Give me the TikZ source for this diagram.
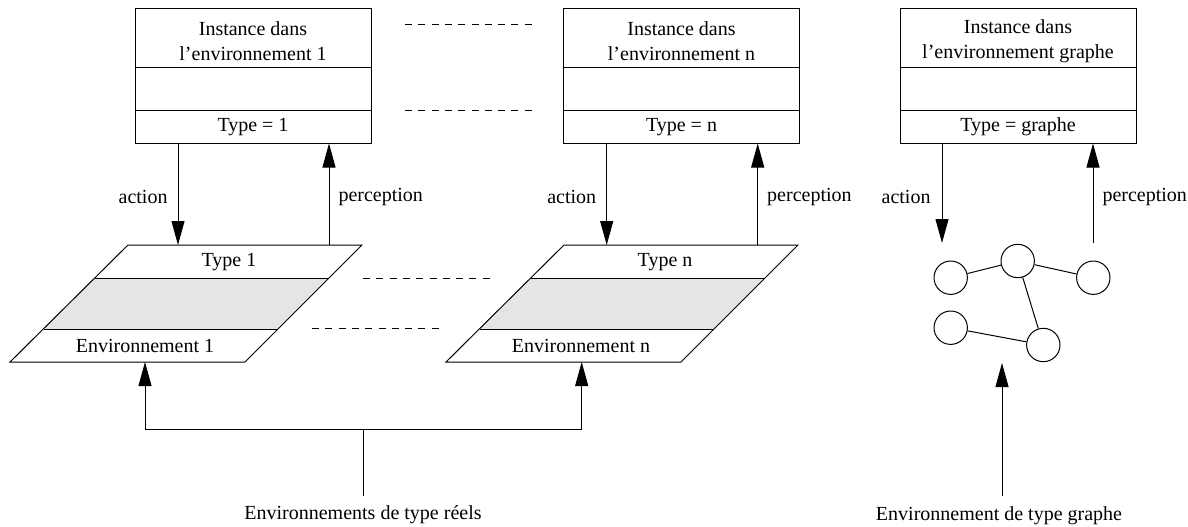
\documentclass[tikz,border=0pt]{standalone}
\usepackage{fontspec}
\setmainfont{Liberation Serif}
\usetikzlibrary{arrows.meta}
\begin{document}
\begin{tikzpicture}[x=1pt,y=-1pt,line width=1pt,
  font=\fontsize{20}{25}\selectfont,
  inst/.style={draw,minimum width=236pt,minimum height=134pt,inner sep=0pt},
  lbl/.style={align=center,inner sep=0pt},
  arr/.style={-{Triangle[length=24pt,width=13pt]}},
  dsh/.style={dash pattern=on 7pt off 6.3pt},
  gnode/.style={draw,circle,minimum size=33.4pt,inner sep=0pt},
  band/.style={fill=gray!20}]
\useasboundingbox (0,0) rectangle (1188,527);

% ---------- top instance boxes ----------
\node[inst] (b1) at (253,76) {};
\node[inst] (bn) at (681.5,76) {};
\node[inst] (bg) at (1018,76) {};
\foreach \b in {b1,bn,bg}{
  \draw (\b.west |- 0,68) -- (\b.east |- 0,68);
  \draw (\b.west |- 0,110) -- (\b.east |- 0,110);
}
\node[lbl] (t1) at (253,41.5) {Instance dans\\l’environnement 1};
\node[lbl] (tn) at (681.5,41.5) {Instance dans\\l’environnement n};
\node[lbl] (tg) at (1018,41.5) {Instance dans\\l’environnement graphe};
\node[lbl] (ty1) at (253,127) {Type = 1};
\node[lbl] (tyn) at (681.5,127) {Type = n};
\node[lbl] (tyg) at (1018,127) {Type = graphe};

% dashed separators between instance boxes
\draw[dsh] (405,25) -- (532,25);
\draw[dsh] (405,110) -- (532,110);

% ---------- parallelograms ----------
\foreach \dx/\nm in {0/1,436/n}{
  \begin{scope}[xshift=\dx pt]
    \fill[band] (95,278) -- (329,278) -- (278,329) -- (44,329) -- cycle;
    \draw (128,245) -- (362,245) -- (245,362) -- (10,362) -- cycle;
    \draw (95,278) -- (329,278);
    \draw (44,329) -- (278,329);
  \end{scope}
}
\node[lbl] (p1t) at (229,262) {Type 1};
\node[lbl] (p1b) at (145,346) {Environnement 1};
\node[lbl] (pnt) at (665,262) {Type n};
\node[lbl] (pnb) at (581,346) {Environnement n};

\draw[dsh] (363,278) -- (491,278);
\draw[dsh] (312,328.7) -- (440,328.7);

% ---------- action / perception arrows ----------
\coordinate (a1) at (178,245);
\coordinate (q1) at (329,245);
\coordinate (an) at (606.7,245);
\coordinate (qn) at (757.7,245);
\coordinate (ag) at (942,243);
\coordinate (qg) at (1093,243);

\draw[arr] (b1.south -| a1) -- (a1);
\draw[arr] (q1) -- (b1.south -| q1);
\draw[arr] (bn.south -| an) -- (an);
\draw[arr] (qn) -- (bn.south -| qn);
\draw[arr] (bg.south -| ag) -- (ag);
\draw[arr] (qg) -- (bg.south -| qg);

\node[lbl,anchor=east] (la1) at (168,197) {action};
\node[lbl,anchor=west] (lq1) at (338,197) {perception};
\node[lbl,anchor=east] (lan) at (596.7,197) {action};
\node[lbl,anchor=west] (lqn) at (766.7,197) {perception};
\node[lbl,anchor=east] (lag) at (931,197) {action};
\node[lbl,anchor=west] (lqg) at (1102,197) {perception};

% ---------- graph ----------
\node[gnode] (c1) at (950.7,277.7) {};
\node[gnode] (c2) at (1017.7,261) {};
\node[gnode] (c3) at (1093.3,277.7) {};
\node[gnode] (c4) at (950.7,327.7) {};
\node[gnode] (c5) at (1043.3,345) {};
\draw (c1) -- (c2);
\draw (c2) -- (c3);
\draw (c2) -- (c5);
\draw (c4) -- (c5);

% ---------- bottom ----------
\coordinate (e1) at (145,362);
\coordinate (en) at (581.7,362);
\coordinate (j) at (363,429);
\coordinate (jb) at (363,496);
\node[lbl] (tr) at (363,515) {Environnements de type réels};
\draw[arr] (j) -| (e1);
\draw[arr] (j) -| (en);
\draw (jb) -- (j);

\coordinate (g) at (1002,363);
\coordinate (gb) at (1002,496);
\node[lbl] (tgr) at (999,515.7) {Environnement de type graphe};
\draw[arr] (gb) -- (g);
\end{tikzpicture}
\end{document}
